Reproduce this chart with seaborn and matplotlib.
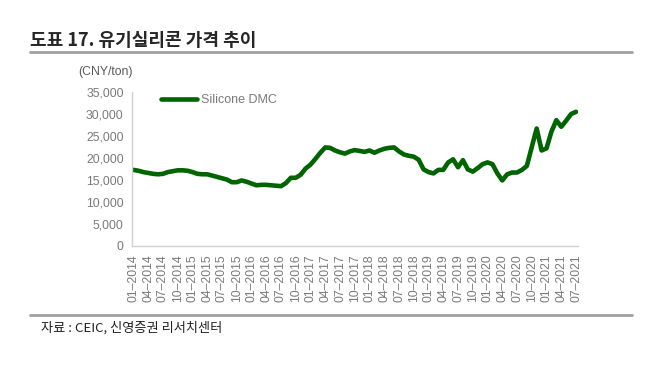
import numpy as np
import pandas as pd
import matplotlib
matplotlib.use("Agg")
import matplotlib.pyplot as plt
import seaborn as sns

# ------------------------------
# Data (monthly, Jan 2014 - Jul 2021), CNY/ton
# ------------------------------
start_month = "2014-01"
n_months = 91
dmc_price = [
    17300, 17100, 16800, 16600, 16400, 16300, 16400, 16800, 17000, 17200, 17200, 17100,
    16800, 16400, 16300, 16300, 16000, 15700, 15400, 15100, 14500, 14500, 14900, 14600,
    14200, 13800, 13900, 13900, 13800, 13700, 13600, 14300, 15500, 15500, 16200, 17600,
    18500, 19800, 21200, 22400, 22300, 21700, 21300, 21000, 21500, 21800, 21600, 21400,
    21700, 21200, 21700, 22100, 22300, 22400, 21500, 20800, 20500, 20300, 19600, 17400,
    16800, 16500, 17300, 17300, 19000, 19700, 17900, 19500, 17400, 16900, 17700, 18600,
    19000, 18600, 16500, 14900, 16300, 16700, 16700, 17300, 18200, 22500, 26700, 21700,
    22200, 26000, 28600, 27100, 28500, 30000, 30500,
]
series_name = "Silicone DMC"
y_ticks = [0, 5000, 10000, 15000, 20000, 25000, 30000, 35000]

dates = pd.period_range(start_month, periods=n_months, freq="M")
df = pd.DataFrame({"month": np.arange(n_months), "price": dmc_price})
tick_idx = [i for i, d in enumerate(dates) if d.month in (1, 4, 7, 10)]
tick_labels = [f"{dates[i].month:02d}–{dates[i].year}" for i in tick_idx]

# ------------------------------
# Style
# ------------------------------
sns.set_theme(style="white")
plt.rcParams["font.family"] = ["Liberation Sans", "Noto Sans CJK KR", "DejaVu Sans"]
label_gray = "#7a7a7a"
line_color = "#006400"

fig = plt.figure(figsize=(6.57, 3.70), dpi=100)
ax = fig.add_axes([132 / 657, 1 - 246 / 370, (578 - 132) / 657, (246 - 92) / 370])

sns.lineplot(data=df, x="month", y="price", ax=ax, color=line_color,
             linewidth=3.3, label=series_name)

ax.set_xlim(-0.3, n_months - 0.6)
ax.set_ylim(0, 35000)
ax.set_yticks(y_ticks)
ax.set_yticklabels([f"{v:,}" for v in y_ticks], fontsize=8.8, color=label_gray)
ax.set_xticks(tick_idx)
ax.set_xticklabels(tick_labels, rotation=90, fontsize=8.8, color=label_gray)
ax.set_xlabel("")
ax.set_ylabel("")

for side in ["top", "right"]:
    ax.spines[side].set_visible(False)
for side in ["left", "bottom"]:
    ax.spines[side].set_color("#d0d0d0")
    ax.spines[side].set_linewidth(1.0)
ax.tick_params(axis="both", which="both", direction="out", length=3, width=0.8,
               color="#d0d0d0", pad=3)

leg = ax.legend(loc="upper left", bbox_to_anchor=(0.04, 1.06), frameon=False,
                fontsize=9, handlelength=2.9, handletextpad=0.3)
for t in leg.get_texts():
    t.set_color(label_gray)

# unit label
fig.text(78 / 657, 1 - 72 / 370, "(CNY/ton)", fontsize=8.8, color="#595959",
         va="center", ha="left")

# title and rules
fig.text(30 / 657, 1 - 40 / 370, "도표 17. 유기실리콘 가격 추이", fontsize=13,
         fontweight="bold", va="center", ha="left",
         family=["Noto Sans CJK KR", "DejaVu Sans"])
fig.add_artist(plt.Line2D([30 / 657, 632 / 657], [1 - 52 / 370, 1 - 52 / 370],
                          color="#a0a0a0", linewidth=2))
fig.add_artist(plt.Line2D([30 / 657, 632 / 657], [1 - 315 / 370, 1 - 315 / 370],
                          color="#a0a0a0", linewidth=2))
fig.text(41 / 657, 1 - 328 / 370, "자료 : CEIC, 신영증권 리서치센터", fontsize=9.5,
         va="center", ha="left", color="#222222",
         family=["Noto Sans CJK KR", "DejaVu Sans"])

fig.savefig("out.png", dpi=100)
